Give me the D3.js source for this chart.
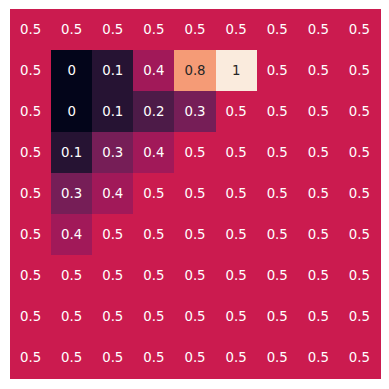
<!DOCTYPE html>
<html><head><meta charset="utf-8">
<script src="https://cdn.jsdelivr.net/npm/d3@7"></script>
<style>body{margin:0;background:#fff}svg{display:block}</style>
</head><body>
<svg id="c" width="389" height="389"></svg>
<script>
const rowIds = [0,1,2,3,4,5,6,7,8];
const colIds = [0,1,2,3,4,5,6,7,8];
const row0 = [0.5,0.5,0.5,0.5,0.5,0.5,0.5,0.5,0.5];
const row1 = [0.5,0,0.1,0.4,0.8,1,0.5,0.5,0.5];
const row2 = [0.5,0,0.1,0.2,0.3,0.5,0.5,0.5,0.5];
const row3 = [0.5,0.1,0.3,0.4,0.5,0.5,0.5,0.5,0.5];
const row4 = [0.5,0.3,0.4,0.5,0.5,0.5,0.5,0.5,0.5];
const row5 = [0.5,0.4,0.5,0.5,0.5,0.5,0.5,0.5,0.5];
const row6 = [0.5,0.5,0.5,0.5,0.5,0.5,0.5,0.5,0.5];
const row7 = [0.5,0.5,0.5,0.5,0.5,0.5,0.5,0.5,0.5];
const row8 = [0.5,0.5,0.5,0.5,0.5,0.5,0.5,0.5,0.5];
const rowsData = [row0,row1,row2,row3,row4,row5,row6,row7,row8];

const rocketStops = [[0,"#03051a"],[0.143,"#35193e"],[0.286,"#701f57"],[0.429,"#ad1759"],[0.5,"#cb1b4f"],[0.571,"#e13342"],[0.714,"#f37651"],[0.857,"#f6b48f"],[1,"#faebdd"]];
const color = d3.scaleLinear().domain(rocketStops.map(d=>d[0])).range(rocketStops.map(d=>d[1])).interpolate(d3.interpolateRgb).clamp(true);

const svg = d3.select("#c");
const x = d3.scaleBand().domain(colIds).range([10,380]);
const y = d3.scaleBand().domain(rowIds).range([9,378.3]);

const cells = [];
rowsData.forEach((r,i)=>r.forEach((v,j)=>cells.push({r:rowIds[i],c:colIds[j],v})));

svg.append("g").attr("shape-rendering","crispEdges")
  .selectAll("rect").data(cells).join("rect")
  .attr("x",d=>x(d.c)).attr("y",d=>y(d.r))
  .attr("width",x.bandwidth()+0.5).attr("height",y.bandwidth()+0.5)
  .attr("fill",d=>color(d.v));

function lum(c){const o=d3.rgb(c);const f=v=>{v/=255;return v<=0.03928?v/12.92:Math.pow((v+0.055)/1.055,2.4);};return 0.2126*f(o.r)+0.7152*f(o.g)+0.0722*f(o.b);}

svg.append("g").selectAll("text").data(cells).join("text")
  .attr("x",d=>x(d.c)+x.bandwidth()/2).attr("y",d=>y(d.r)+y.bandwidth()/2)
  .attr("text-anchor","middle").attr("dominant-baseline","central")
  .attr("font-family","DejaVu Sans").attr("font-size","13.3px")
  .attr("fill",d=>lum(color(d.v))>0.408?"#262626":"#ffffff")
  .text(d=>String(d.v));
</script>
</body></html>
